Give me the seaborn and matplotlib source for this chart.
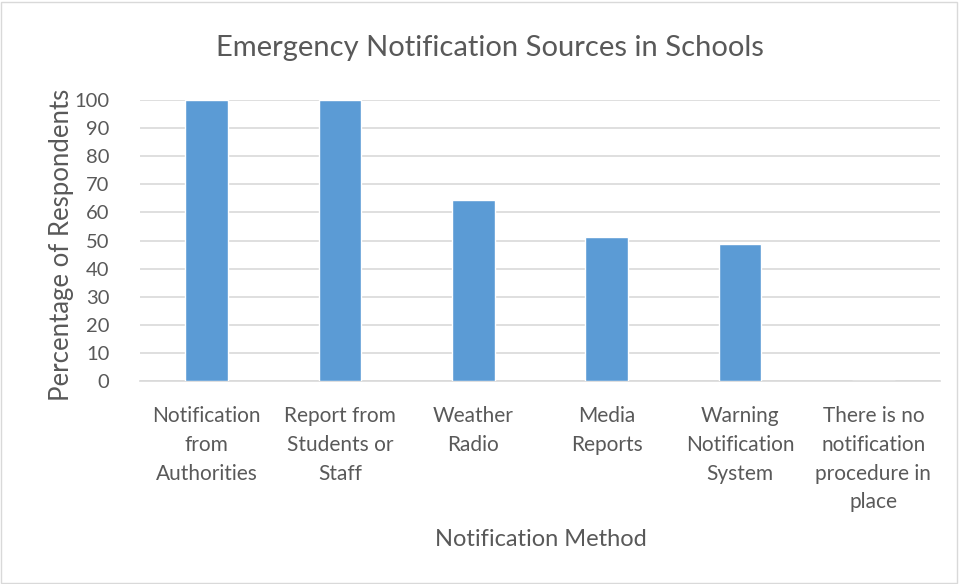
import matplotlib
matplotlib.use("Agg")
import matplotlib.pyplot as plt
import seaborn as sns
import pandas as pd
from matplotlib.patches import Rectangle

categories = [
    "Notification\nfrom\nAuthorities",
    "Report from\nStudents or\nStaff",
    "Weather\nRadio",
    "Media\nReports",
    "Warning\nNotification\nSystem",
    "There is no\nnotification\nprocedure in\nplace",
]
percentages = [100.0, 100.0, 64.4, 51.1, 48.9, 0.0]
y_ticks = [0, 10, 20, 30, 40, 50, 60, 70, 80, 90, 100]

sns.set_theme(style="white")
plt.rcParams["font.family"] = ["Lato", "DejaVu Sans"]

text_color = "#595959"
bar_color = "#5B9BD5"
grid_color = "#D9D9D9"

df = pd.DataFrame({"method": categories, "pct": percentages})

fig = plt.figure(figsize=(9.6, 5.84), dpi=100)
ax = fig.add_axes([140 / 960, 1 - 381 / 584, 800 / 960, 281 / 584])

sns.barplot(data=df, x="method", y="pct", color=bar_color, width=0.32,
            saturation=1, ax=ax, zorder=3)

ax.set_ylim(0, 100)
ax.set_xlim(-0.5, len(categories) - 0.5)
ax.set_yticks(y_ticks)
ax.set_yticklabels([str(t) for t in y_ticks], fontsize=14.5, color=text_color)
ax.tick_params(axis="y", length=0, pad=22)
ax.tick_params(axis="x", length=0, pad=18)
for lbl in ax.get_xticklabels():
    lbl.set_fontsize(15)
    lbl.set_color(text_color)
    lbl.set_linespacing(1.55)
    lbl.set_verticalalignment("top")
ax.yaxis.grid(True, color=grid_color, linewidth=1.2, zorder=0)
ax.set_axisbelow(True)
for side in ["top", "right", "left"]:
    ax.spines[side].set_visible(False)
ax.spines["bottom"].set_color(grid_color)
ax.spines["bottom"].set_linewidth(1.2)

ax.set_xlabel("")
ax.set_ylabel("")
fig.text(541 / 960, 1 - 540 / 584, "Notification Method", fontsize=17,
         color=text_color, ha="center", va="center")
fig.text(62 / 960, 1 - 245 / 584, "Percentage of Respondents", fontsize=18.5,
         color=text_color, ha="center", va="center", rotation=90)
fig.text(490 / 960, 1 - 48 / 584, "Emergency Notification Sources in Schools",
         fontsize=21, color=text_color, ha="center", va="center")

fig.patches.append(Rectangle((0.001, 0.002), 0.996, 0.995, transform=fig.transFigure,
                             fill=False, edgecolor="#D9D9D9", linewidth=1))

fig.savefig("out.png", dpi=100)
